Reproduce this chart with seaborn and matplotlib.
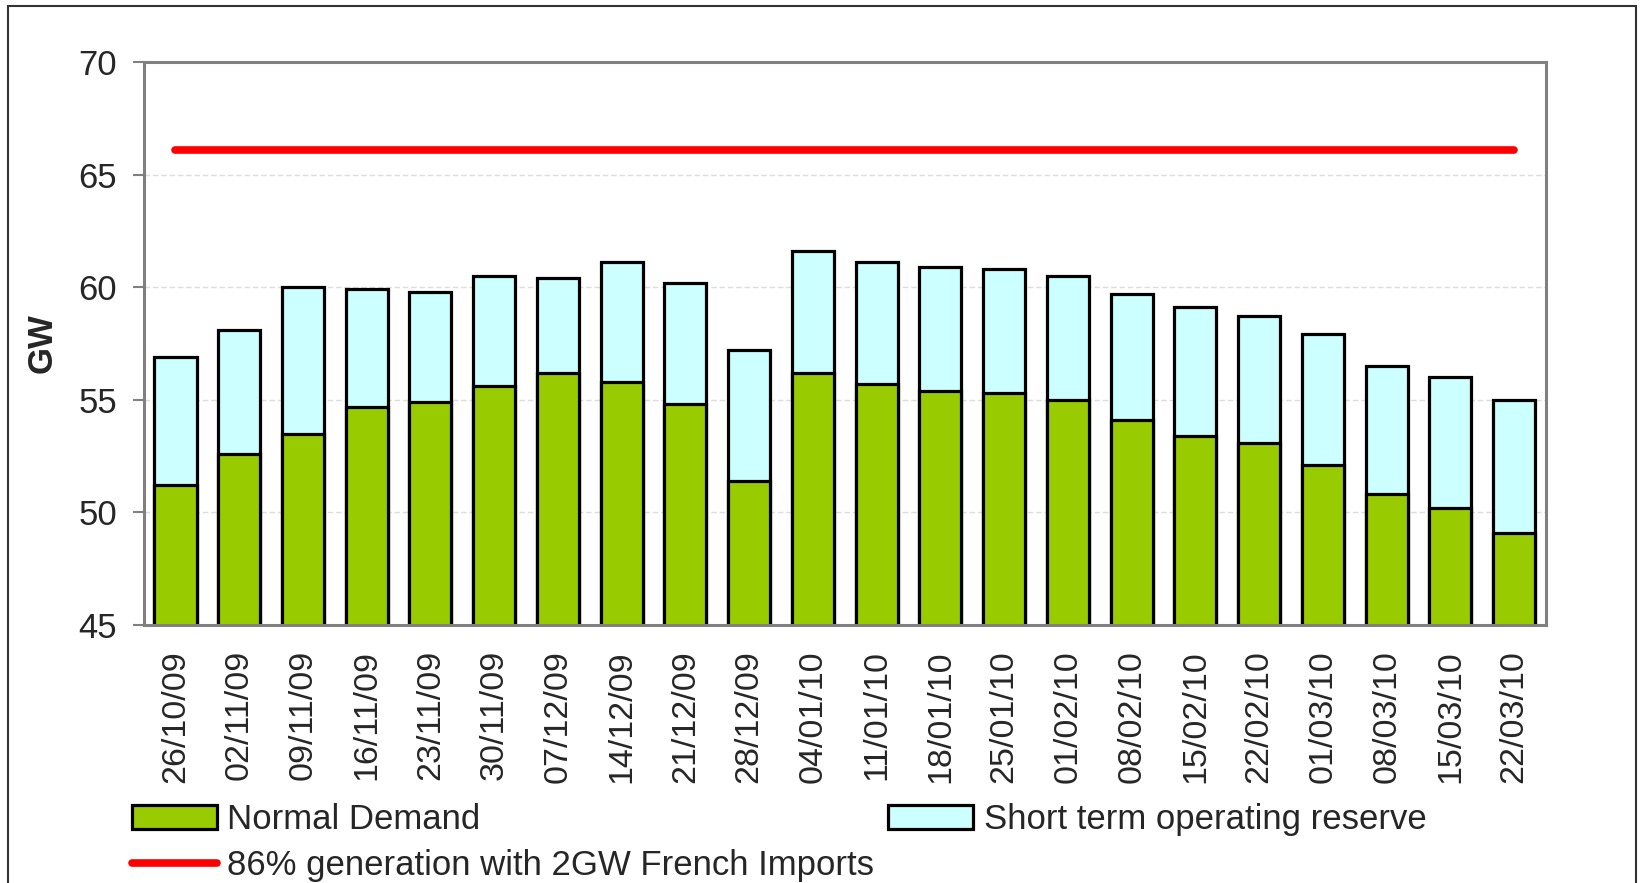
import numpy as np
import pandas as pd
import matplotlib
matplotlib.use("Agg")
import matplotlib.pyplot as plt
import seaborn as sns
from matplotlib.patches import Patch, Rectangle
from matplotlib.lines import Line2D

dates = ["26/10/09", "02/11/09", "09/11/09", "16/11/09", "23/11/09", "30/11/09",
         "07/12/09", "14/12/09", "21/12/09", "28/12/09", "04/01/10", "11/01/10",
         "18/01/10", "25/01/10", "01/02/10", "08/02/10", "15/02/10", "22/02/10",
         "01/03/10", "08/03/10", "15/03/10", "22/03/10"]
normal_demand = [51.2, 52.6, 53.5, 54.7, 54.9, 55.6, 56.2, 55.8, 54.8, 51.4, 56.2,
                 55.7, 55.4, 55.3, 55.0, 54.1, 53.4, 53.1, 52.1, 50.8, 50.2, 49.1]
stor_reserve = [5.7, 5.5, 6.5, 5.2, 4.9, 4.9, 4.2, 5.3, 5.4, 5.8, 5.4,
                5.4, 5.5, 5.5, 5.5, 5.6, 5.7, 5.6, 5.8, 5.7, 5.8, 5.9]
generation_level = 66.1

labels = ["Normal Demand", "Short term operating reserve",
          "86% generation with 2GW French Imports"]
yticks = [45, 50, 55, 60, 65, 70]

sns.set_theme(style="white")
plt.rcParams["font.family"] = ["Liberation Sans", "DejaVu Sans"]

df = pd.DataFrame({"date": dates, "normal": normal_demand, "reserve": stor_reserve})
df["total"] = df["normal"] + df["reserve"]

W, H = 1644, 883
fig = plt.figure(figsize=(W / 100, H / 100), dpi=100)
fig.patch.set_facecolor("white")
ax = fig.add_axes([143.6 / W, 1 - 625 / H, (1546 - 143.6) / W, (625 - 62) / H])

green = "#99CC00"
cyan = "#CCFFFF"
red = "#FF0000"
edge_lw = 2.3

sns.barplot(data=df, x="date", y="total", color=cyan, saturation=1, width=0.66,
            edgecolor="black", linewidth=edge_lw, ax=ax, zorder=3)
sns.barplot(data=df, x="date", y="normal", color=green, saturation=1, width=0.66,
            edgecolor="black", linewidth=edge_lw, ax=ax, zorder=4)
sns.lineplot(x=np.arange(len(dates)), y=np.full(len(dates), generation_level),
             color=red, linewidth=5.5, ax=ax, zorder=5)

ax.set_ylim(yticks[0], yticks[-1])
ax.set_xlim(-0.5, len(dates) - 0.5)
ax.set_yticks(yticks)
ax.set_yticklabels([str(t) for t in yticks], fontsize=25)
ax.set_xticks(range(len(dates)))
ax.set_xticklabels(dates, rotation=90, fontsize=24.5)
ax.tick_params(axis="y", which="both", left=True, length=8, width=1.5,
               color="#808080", pad=11)
ax.tick_params(axis="x", length=0, pad=18)
ax.set_xlabel("")
ax.set_ylabel("GW", fontsize=25, fontweight="bold", labelpad=14)

ax.grid(axis="y", color="#dcdcdc", linestyle=(0, (4, 2)), linewidth=1.0, zorder=0)
ax.set_axisbelow(True)
for sp in ax.spines.values():
    sp.set_visible(True)
    sp.set_color("#808080")
    sp.set_linewidth(2.2)
    sp.set_zorder(6)

handles = [Patch(facecolor=green, edgecolor="black", linewidth=2.3),
           Line2D([0], [0], color=red, linewidth=5.5),
           Patch(facecolor=cyan, edgecolor="black", linewidth=2.3)]
leg_labels = [labels[0], labels[2], labels[1]]
fig.legend(handles, leg_labels, ncol=2, loc="upper left",
           bbox_to_anchor=(132 / W, 1 - 803 / H), frameon=False, fontsize=25,
           handlelength=2.45, handleheight=0.7, handletextpad=0.3,
           columnspacing=0.4, labelspacing=0.38, borderpad=0, borderaxespad=0)

fig.add_artist(Rectangle((8 / W, -0.05), (1636 - 8) / W, 1.05 - 6 / H,
                         transform=fig.transFigure, fill=False,
                         edgecolor="#333333", linewidth=1.5))

fig.savefig("out.png", dpi=100, facecolor="white")
